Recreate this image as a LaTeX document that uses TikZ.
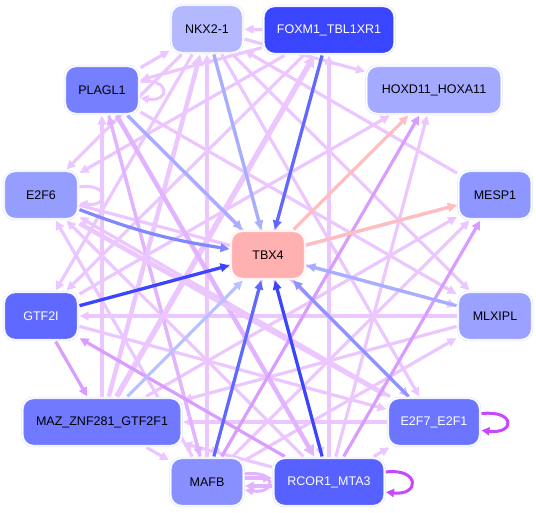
\documentclass[tikz,border=0pt]{standalone}
\usepackage{fontspec}
\setmainfont{Liberation Sans}
\usetikzlibrary{arrows.meta}

\definecolor{lav}{HTML}{EBC6FF}
\definecolor{lavmid}{HTML}{E2B4FF}
\definecolor{purp}{HTML}{D99CFF}
\definecolor{loopc}{HTML}{C648FF}
\definecolor{rim}{HTML}{DDE0FF}
\definecolor{salmon}{HTML}{FFBDBD}
\definecolor{bdark}{HTML}{3A45FF}
\definecolor{bmid}{HTML}{5F69FF}
\definecolor{bsoft}{HTML}{7F88FF}
\definecolor{bpale}{HTML}{A6AEFF}
\definecolor{bpaler}{HTML}{B8C2FF}

\pgfdeclarelayer{background}
\pgfsetlayers{background,main}

\tikzset{
  gene/.style={draw=rim, double=white, double distance=1.4pt, line width=0.5pt,
    rounded corners=11pt, minimum height=48pt, inner sep=0pt, outer sep=1.5pt,
    font=\fontsize{12.5}{14}\selectfont},
  link/.style={-{Triangle[length=9pt,width=8.5pt]}, line width=3.2pt, lav},
  heavylink/.style={-{Triangle[length=11pt,width=11pt]}, line width=5.5pt, lav},
  selfloop/.style={-{Triangle[length=8pt,width=8pt]}, line width=3pt},
}

\begin{document}
\begin{tikzpicture}[x=1pt, y=-1pt]
  \useasboundingbox (0,0) rectangle (536,512);

  % genes
  \node[gene, fill={rgb,255:red,179;green,184;blue,255}, minimum width=72pt] (nkx) at (207,29) {NKX2-1};
  \node[gene, fill=bdark, text=white, minimum width=131pt] (foxm) at (329,30) {FOXM1\_TBL1XR1};
  \node[gene, fill={rgb,255:red,118;green,128;blue,255}, minimum width=74pt] (plagl) at (102,90) {PLAGL1};
  \node[gene, fill={rgb,255:red,163;green,170;blue,255}, minimum width=135pt] (hoxd) at (434,90) {HOXD11\_HOXA11};
  \node[gene, fill={rgb,255:red,149;green,158;blue,255}, minimum width=74pt] (etf) at (41,195) {E2F6};
  \node[gene, fill={rgb,255:red,142;green,151;blue,255}, minimum width=73pt] (mesp) at (495,195) {MESP1};
  \node[gene, fill={rgb,255:red,255;green,176;blue,176}, draw={rgb,255:red,255;green,225;blue,225}, minimum width=74pt] (tbx) at (268,255) {TBX4};
  \node[gene, fill=bmid, text=white, minimum width=74pt] (gtf) at (41,316) {GTF2I};
  \node[gene, fill={rgb,255:red,154;green,161;blue,255}, minimum width=74pt] (mlx) at (495,316) {MLXIPL};
  \node[gene, fill={rgb,255:red,112;green,121;blue,255}, minimum width=159pt] (maz) at (102,422) {MAZ\_ZNF281\_GTF2F1};
  \node[gene, fill={rgb,255:red,107;green,117;blue,255}, text=white, minimum width=92pt] (ezf) at (434,422) {E2F7\_E2F1};
  \node[gene, fill={rgb,255:red,136;green,144;blue,255}, minimum width=73pt] (mafb) at (207,482) {MAFB};
  \node[gene, fill={rgb,255:red,86;green,97;blue,255}, text=white, minimum width=111pt] (rcor) at (329,482) {RCOR1\_MTA3};

  \begin{pgfonlayer}{background}
    % pale regulatory links
    \foreach \a/\b in {foxm/nkx, plagl/nkx, foxm/plagl, nkx/hoxd, mesp/nkx, maz/plagl,
        mafb/nkx, rcor/foxm, plagl/mlx, maz/mesp, mafb/mesp, rcor/hoxd, gtf/hoxd,
        mlx/gtf, ezf/maz, rcor/maz, mlx/maz, maz/mafb, rcor/ezf, ezf/etf, rcor/etf,
        mafb/etf, foxm/etf, nkx/etf, nkx/gtf, foxm/gtf, nkx/ezf, nkx/rcor, nkx/mlx,
        gtf/ezf, mafb/mlx, foxm/mafb, etf/mlx, gtf/mesp}
      \draw[link] (\a) -- (\b);
    \foreach \a/\b in {plagl/ezf, plagl/mafb, mafb/plagl}
      \draw[link, lavmid] (\a) -- (\b);
    \draw[heavylink] (maz) -- (foxm);
    \draw[heavylink, line width=4.5pt] (maz) -- (nkx);
    \draw[heavylink, lavmid, line width=4.5pt] (plagl) -- (rcor);
    \draw[heavylink, line width=4.5pt] ([yshift=-3pt]etf.south east) -- (ezf);
    \draw[link, lavmid] ([yshift=4pt]mafb.east) -- ([yshift=4pt]rcor.west);
    \draw[link, lavmid] ([yshift=-4pt]rcor.west) -- ([yshift=-4pt]mafb.east);
    % stronger links
    \foreach \a/\b in {mafb/hoxd, rcor/mesp, gtf/maz, rcor/gtf}
      \draw[link, purp] (\a) -- (\b);
    % links into TBX4
    \draw[link, bmid] (foxm) -- (tbx);
    \draw[link, bpale] (nkx) -- (tbx);
    \draw[link, bpale] (plagl) -- (tbx);
    \draw[link, bsoft] (etf) to[bend right=6] (tbx);
    \draw[link, bdark] (gtf) -- (tbx);
    \draw[link, bpaler] (maz) -- (tbx);
    \draw[link, bmid] (mafb) -- (tbx);
    \draw[link, bdark] (rcor) -- (tbx);
    \draw[link, bsoft!90!white] (ezf) -- (tbx);
    \draw[link, bpale] (mlx) -- (tbx);
    \draw[link, salmon] (tbx) -- (hoxd);
    \draw[link, salmon] (tbx) -- (mesp);
  \end{pgfonlayer}

  % self loops
  \draw[selfloop, lav] (plagl.12) .. controls +(30,-4) and +(30,4) .. (plagl.-12);
  \draw[selfloop, lav] (etf.12) .. controls +(30,-4) and +(30,4) .. (etf.-12);
  \draw[selfloop, lavmid] (mafb.12) .. controls +(32,-4) and +(32,4) .. (mafb.-12);
  \draw[selfloop, loopc] (rcor.10) .. controls +(34,-4) and +(34,4) .. (rcor.-10);
  \draw[selfloop, loopc] (ezf.10) .. controls +(34,-4) and +(34,4) .. (ezf.-10);
\end{tikzpicture}
\end{document}
